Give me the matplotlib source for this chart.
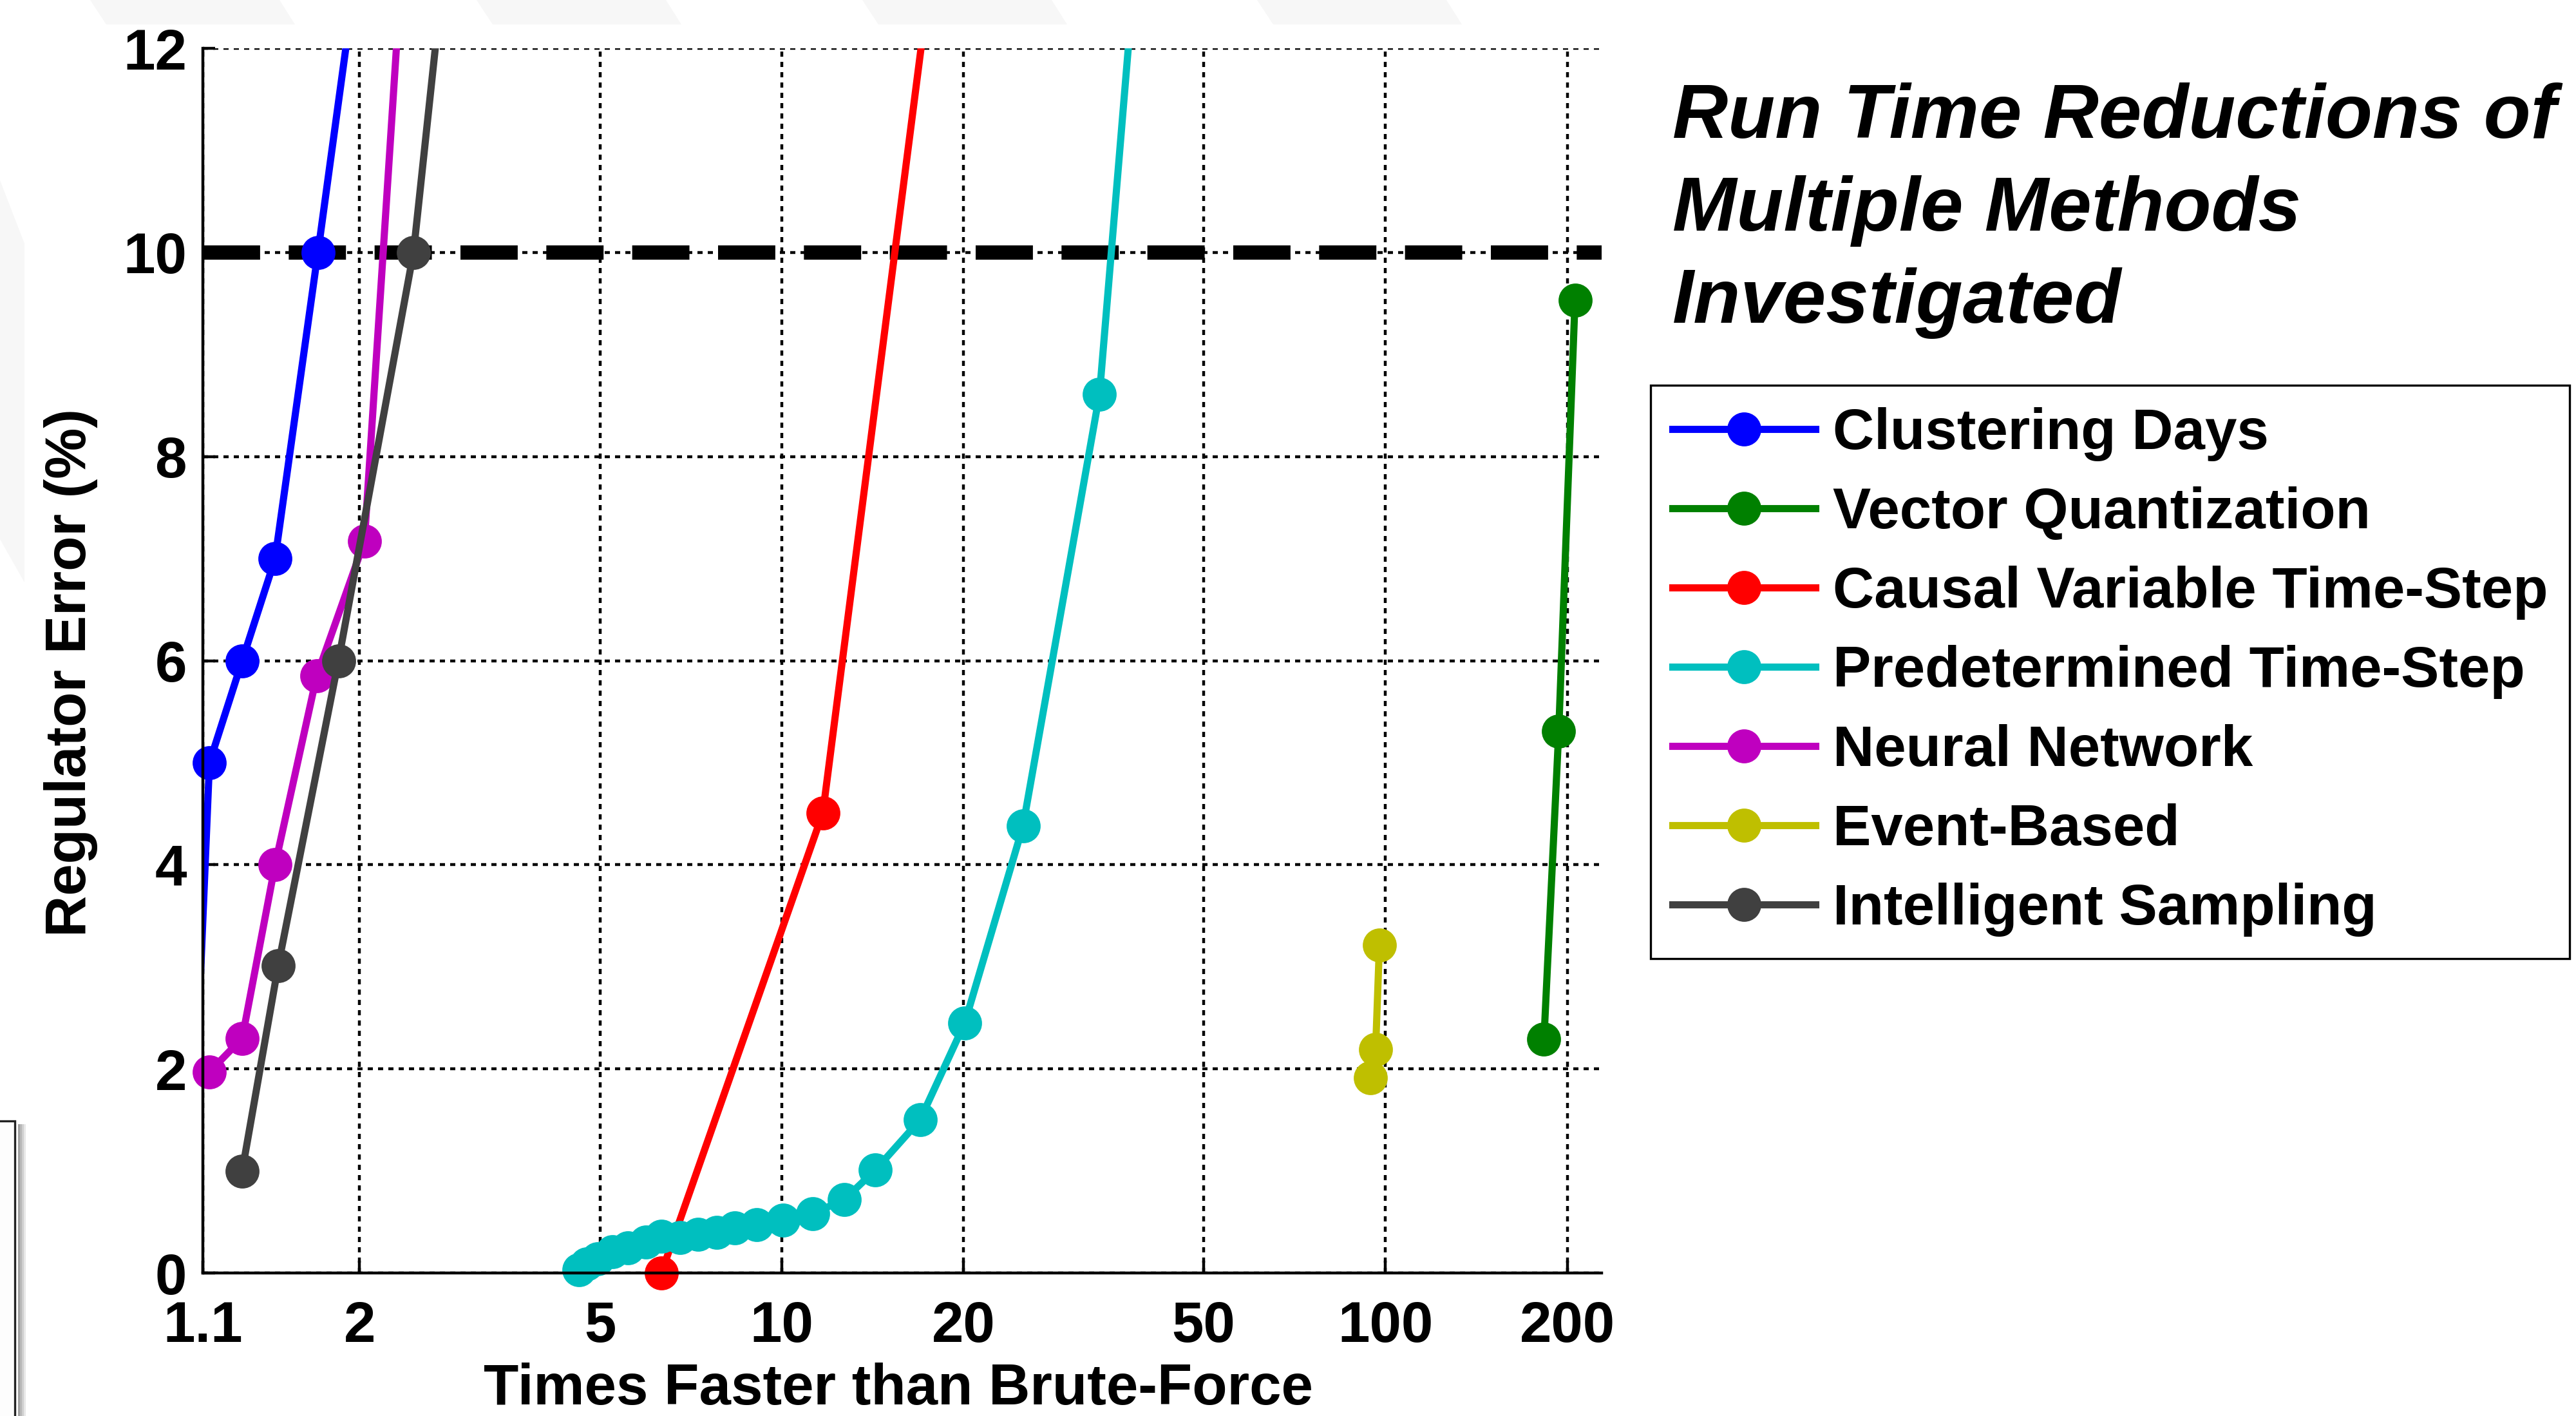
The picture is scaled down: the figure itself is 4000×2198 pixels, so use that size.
import matplotlib
matplotlib.use("Agg")
import matplotlib.pyplot as plt
from matplotlib.lines import Line2D
from matplotlib.patches import Polygon, Rectangle
import numpy as np

plt.rcParams["font.family"] = ["Liberation Sans", "DejaVu Sans"]
plt.rcParams["font.weight"] = "bold"

# values (x: times faster, y: regulator error in %)
clustering_x = [1.09, 1.128, 1.278, 1.449, 1.706, 2.11]
clustering_y = [2.9, 5.0, 6.0, 7.0, 10.0, 14.0]
vq_x = [183.0, 193.6, 206.0]
vq_y = [2.29, 5.31, 9.53]
causal_x = [6.32, 11.7, 18.8]
causal_y = [0.0, 4.51, 14.0]
predet_x = [4.62, 4.75, 4.96, 5.25, 5.56, 5.96, 6.32, 6.78, 7.27, 7.8, 8.37,
            9.1, 10.05, 11.25, 12.7, 14.3, 16.95, 20.1, 25.1, 33.6, 40.0]
predet_y = [0.03, 0.09, 0.14, 0.21, 0.245, 0.30, 0.36, 0.35, 0.38, 0.40, 0.44,
            0.475, 0.52, 0.58, 0.72, 1.01, 1.50, 2.45, 4.38, 8.61, 14.0]
neural_x = [1.128, 1.278, 1.449, 1.698, 2.037, 2.42]
neural_y = [1.97, 2.30, 4.0, 5.85, 7.17, 14.0]
event_x = [94.4, 96.3, 97.7]
event_y = [1.91, 2.19, 3.21]
sampling_x = [1.278, 1.466, 1.845, 2.456, 2.90]
sampling_y = [1.0, 3.01, 6.0, 10.0, 14.0]

series_names = ["Clustering Days", "Vector Quantization", "Causal Variable Time-Step",
                "Predetermined Time-Step", "Neural Network", "Event-Based",
                "Intelligent Sampling"]
series_x = [clustering_x, vq_x, causal_x, predet_x, neural_x, event_x, sampling_x]
series_y = [clustering_y, vq_y, causal_y, predet_y, neural_y, event_y, sampling_y]
colores = ["#0000FF", "#008000", "#FF0000", "#00BFBF", "#BF00BF", "#BFBF00", "#404040"]

x_ticks = [1.1, 2, 5, 10, 20, 50, 100, 200]
x_tick_labels = ["1.1", "2", "5", "10", "20", "50", "100", "200"]
y_ticks = [0, 2, 4, 6, 8, 10, 12]
limite_error = 10

titulo = ["Run Time Reductions of", "Multiple Methods", "Investigated"]

x_min, x_max = 1.1, 228
y_min, y_max = 0, 12

fig = plt.figure(figsize=(20, 10.99), dpi=200)

# fondo tenue de la diapositiva (franja superior y borde izquierdo)
for x0 in [140, 740, 1339, 1952]:
    fig.patches.append(Polygon(
        [(x0 / 4000, 1), ((x0 + 294) / 4000, 1), ((x0 + 318) / 4000, 1 - 38 / 2198),
         ((x0 + 25) / 4000, 1 - 38 / 2198)],
        closed=True, transform=fig.transFigure, facecolor="#f7f7f7", edgecolor="none", zorder=0))
fig.patches.append(Polygon(
    [(0, 1 - 280 / 2198), (38 / 4000, 1 - 378 / 2198), (38 / 4000, 1 - 904 / 2198), (0, 1 - 837 / 2198)],
    closed=True, transform=fig.transFigure, facecolor="#f7f7f7", edgecolor="none", zorder=0))

# caja cortada en el borde izquierdo, con su sombra
for i, g in enumerate(["#e8e8e8", "#d0d0d0", "#b8b8b8", "#a0a0a0"]):
    fig.patches.append(Rectangle(((23 + 14 - 3 * i) / 4000, 0), 3 / 4000, 1 - 1745 / 2198,
                                 transform=fig.transFigure, facecolor=g, edgecolor="none", zorder=0))
fig.patches.append(Rectangle((-10 / 4000, -0.01), 33 / 4000, 0.01 + 1 - 1740 / 2198,
                             transform=fig.transFigure, facecolor="#fdfdfd", edgecolor="#222222",
                             linewidth=1.2, zorder=0.5))

ax = fig.add_axes([315 / 4000, 1 - 1976 / 2198, 2172 / 4000, 1901 / 2198])
ax.set_xscale("log")
ax.set_xlim(x_min, x_max)
ax.set_ylim(y_min, y_max)

ax.axhline(limite_error, color="black", linewidth=8, linestyle=(0, (4.0, 2.0)), zorder=1.8)

handles = []
for nombre, xs, ys, color in zip(series_names, series_x, series_y, colores):
    xs = np.array(xs)
    ys = np.array(ys)
    ax.plot(xs, ys, "-", color=color, linewidth=4, zorder=2)
    # como en MATLAB: solo se dibujan los marcadores con centro dentro de los ejes
    dentro = (xs >= x_min) & (xs <= x_max) & (ys >= y_min) & (ys <= y_max)
    ax.plot(xs[dentro], ys[dentro], "o", color=color, markersize=18, clip_on=False, zorder=2)
    handles.append(Line2D([], [], color=color, linewidth=4, marker="o", markersize=18, label=nombre))

ax.set_xticks(x_ticks)
ax.set_xticklabels(x_tick_labels)
ax.xaxis.set_minor_locator(matplotlib.ticker.NullLocator())
ax.set_yticks(y_ticks)

ax.set_axisbelow(True)
ax.grid(True, which="major", color="black", linestyle=(0, (1.8, 1.8)), linewidth=1.6)

for lado in ["top", "right"]:
    ax.spines[lado].set_visible(False)
for lado in ["left", "bottom"]:
    ax.spines[lado].set_linewidth(1.6)

ax.tick_params(axis="both", direction="in", length=7, width=1.6, labelsize=32)
ax.tick_params(axis="x", pad=15)
ax.tick_params(axis="y", pad=9)

ax.set_xlabel("Times Faster than Brute-Force", fontsize=32, fontweight="bold")
ax.set_ylabel("Regulator Error (%)", fontsize=32, fontweight="bold")
ax.xaxis.set_label_coords(0.497, -0.073)
ax.yaxis.set_label_coords(-0.075, 0.49)

for texto, base in zip(titulo, [214, 358, 501]):
    fig.text(2597 / 4000, 1 - base / 2198, texto, fontsize=43, fontweight="bold",
             fontstyle="italic", ha="left", va="baseline")

leg = fig.legend(handles=handles, loc="upper left", bbox_to_anchor=(2563 / 4000, 1 - 598 / 2198),
                 bbox_transform=fig.transFigure, borderaxespad=0, fontsize=32,
                 handlelength=2.5, handletextpad=0.3, borderpad=0.38, labelspacing=0.44,
                 fancybox=False, framealpha=1, edgecolor="black")
leg.get_frame().set_linewidth(1.2)
for t in leg.get_texts():
    t.set_fontweight("bold")

fig.savefig("out.png", dpi=200)
plt.close(fig)
